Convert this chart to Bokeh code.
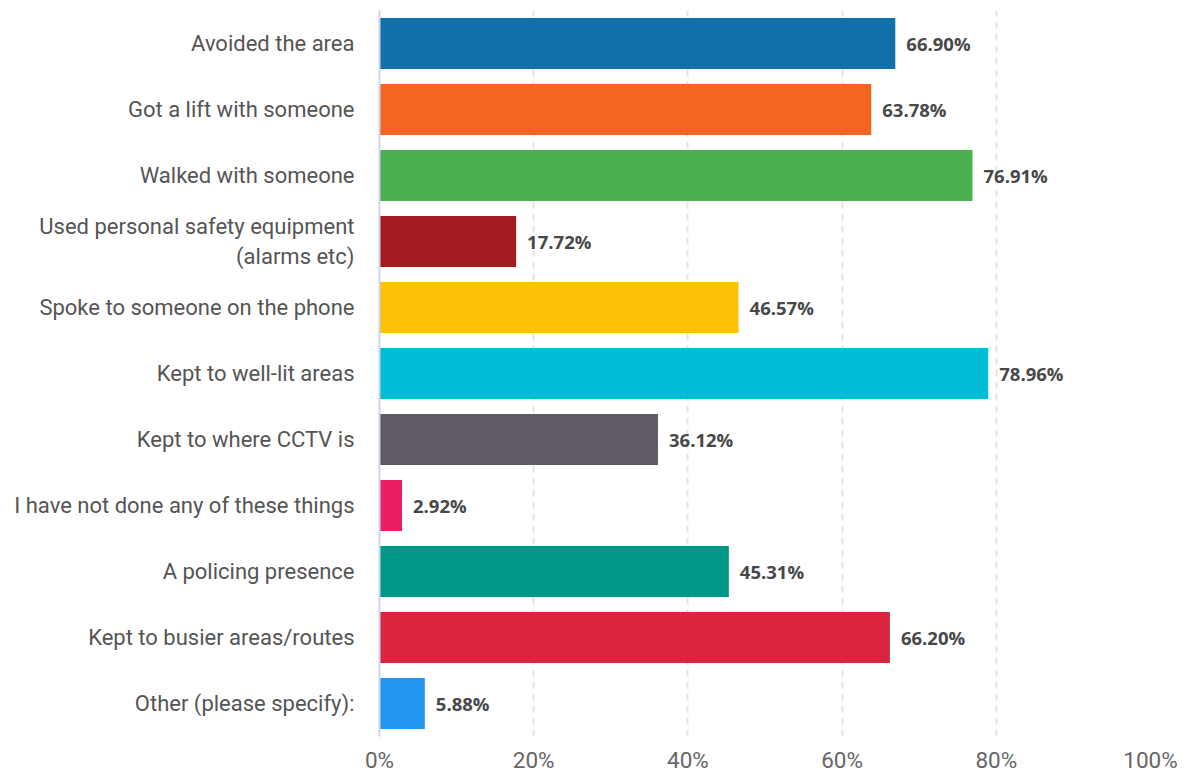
from bokeh.plotting import figure
from bokeh.models import FactorRange, Range1d, FixedTicker, PrintfTickFormatter, ColumnDataSource
from bokeh.core.properties import value
from bokeh.embed import file_html
from bokeh.resources import INLINE

categories = [
    "Avoided the area",
    "Got a lift with someone",
    "Walked with someone",
    "Used personal safety equipment\n(alarms etc)",
    "Spoke to someone on the phone",
    "Kept to well-lit areas",
    "Kept to where CCTV is",
    "I have not done any of these things",
    "A policing presence",
    "Kept to busier areas/routes",
    "Other (please specify):",
]
values = [66.90, 63.78, 76.91, 17.72, 46.57, 78.96, 36.12, 2.92, 45.31, 66.20, 5.88]
colors = ["#1170aa", "#f36621", "#4caf50", "#a31b1f", "#ffc107", "#00bcd4",
          "#5f5a63", "#e91e63", "#009688", "#da2440", "#2196f3"]
x_ticks = [0, 20, 40, 60, 80, 100]

labels = [f"{v:.2f}%" for v in values]
src = ColumnDataSource(dict(cat=categories, val=values, color=colors, label=labels))

p = figure(width=1186, height=775, output_backend="svg", toolbar_location=None,
           y_range=FactorRange(factors=list(reversed(categories)), range_padding=0),
           x_range=Range1d(0, 100),
           min_border_left=379, min_border_right=36, min_border_top=10, min_border_bottom=38)
p.outline_line_color = None
p.background_fill_color = "white"
p.border_fill_color = "white"

p.hbar(y="cat", right="val", left=0, height=0.77, fill_color="color", line_color=None, source=src)
p.text(x="val", y="cat", text="label", source=src, x_offset=11, text_baseline="middle",
       text_align="left", text_font=value("Open Sans"), text_font_style="bold",
       text_font_size="18.5px", text_color="#484848")

p.xaxis.ticker = FixedTicker(ticks=x_ticks)
p.xaxis.formatter = PrintfTickFormatter(format="%d%%")
p.xaxis.axis_line_color = None
p.xaxis.major_tick_line_color = None
p.xaxis.minor_tick_line_color = None
p.xaxis.major_label_standoff = 4
p.xaxis.major_label_text_font = "Roboto"
p.xaxis.major_label_text_font_size = "22.5px"
p.xaxis.major_label_text_color = "#666666"

p.yaxis.axis_line_color = "#ccd6eb"
p.yaxis.axis_line_width = 2
p.yaxis.major_tick_line_color = None
p.yaxis.minor_tick_line_color = None
p.yaxis.major_label_standoff = 19
p.yaxis.major_label_text_font = "Roboto"
p.yaxis.major_label_text_font_size = "22px"
p.yaxis.major_label_text_color = "#555555"

p.ygrid.grid_line_color = None
p.xgrid.ticker = FixedTicker(ticks=x_ticks[1:])
p.xgrid.grid_line_color = "#e4e4e4"
p.xgrid.grid_line_width = 2
p.xgrid.grid_line_dash = "7 5"

open("out.html", "w").write(file_html(p, INLINE))
